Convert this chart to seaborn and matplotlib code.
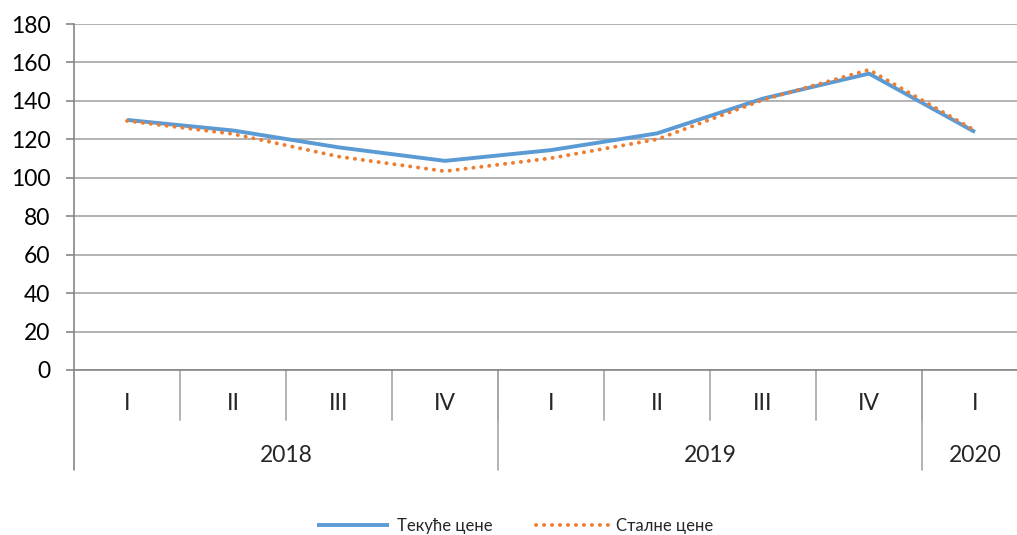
import matplotlib
matplotlib.use("Agg")
import matplotlib.pyplot as plt
import matplotlib.transforms as mtransforms
import seaborn as sns
import pandas as pd

# data
quarters = ["I", "II", "III", "IV", "I", "II", "III", "IV", "I"]
years = ["2018", "2019", "2020"]
year_sizes = [4, 4, 1]
current_prices = [130.1, 124.6, 115.8, 108.8, 114.4, 123.1, 141.2, 154.2, 123.8]
constant_prices = [129.6, 122.8, 111.0, 103.4, 110.2, 120.0, 140.5, 156.2, 124.6]
series_names = ["Текуће цене", "Сталне цене"]
yticks = [0, 20, 40, 60, 80, 100, 120, 140, 160, 180]

BLUE = "#5B9BD5"
ORANGE = "#ED7D31"
GRID = "#A6A6A6"
FS = 16.5

sns.set_theme(style="white")
plt.rcParams["font.family"] = ["Lato", "Open Sans", "DejaVu Sans"]

pos = list(range(len(quarters)))
df = pd.DataFrame({
    "pos": pos * 2,
    "value": current_prices + constant_prices,
    "series": [series_names[0]] * len(pos) + [series_names[1]] * len(pos),
})

fig = plt.figure(figsize=(10.17, 5.35), dpi=100)
ax = fig.add_axes([74 / 1017, 165 / 535, 954 / 1017, 346 / 535])

sns.lineplot(
    data=df, x="pos", y="value", hue="series", style="series",
    palette={series_names[0]: BLUE, series_names[1]: ORANGE},
    dashes={series_names[0]: "", series_names[1]: (0.05, 2.0)},
    linewidth=2.8, ax=ax, legend=True, zorder=3,
)
for line in ax.get_lines():
    line.set_solid_capstyle("butt")
    line.set_dash_capstyle("round")

ax.set_xlim(-0.5, len(quarters) - 0.5)
ax.set_ylim(0, 180)
ax.set_yticks(yticks)
ax.set_yticklabels([str(t) for t in yticks], fontsize=FS)
ax.yaxis.grid(True, color=GRID, linewidth=1.2)
ax.set_axisbelow(True)
ax.tick_params(axis="y", direction="out", length=6, width=1.2, color="#868686",
               pad=11, left=True, labelcolor="black")
ax.set_xticks([])
ax.set_xlabel("")
ax.set_ylabel("")
for s in ["top", "right"]:
    ax.spines[s].set_visible(False)
for s in ["left", "bottom"]:
    ax.spines[s].set_color("#868686")
    ax.spines[s].set_linewidth(1.2)

# multi-level category axis
trans = mtransforms.blended_transform_factory(ax.transData, ax.transAxes)
for i, q in enumerate(quarters):
    ax.text(i, -0.098, q, transform=trans, ha="center", va="center", fontsize=FS)
for i in range(1, len(quarters)):
    ax.plot([i - 0.5, i - 0.5], [0, -0.145], transform=trans, color=GRID,
            linewidth=1.2, clip_on=False)
start = 0
for y, n in zip(years, year_sizes):
    ax.plot([start - 0.5, start - 0.5], [0, -0.29], transform=trans,
            color=GRID if start else "#868686", linewidth=1.2, clip_on=False)
    ax.text(start + (n - 1) / 2, -0.246, y, transform=trans, ha="center",
            va="center", fontsize=FS)
    start += n

handles, labels = ax.get_legend_handles_labels()
ax.get_legend().remove()
leg = fig.legend(handles, labels, loc="center", bbox_to_anchor=(515 / 1017, 9 / 535),
                 ncol=2, frameon=False, fontsize=12, handlelength=4.3,
                 handletextpad=0.5, columnspacing=2.6)
for h in leg.get_lines():
    h.set_linewidth(2.8)

fig.savefig("out.png", dpi=100)
